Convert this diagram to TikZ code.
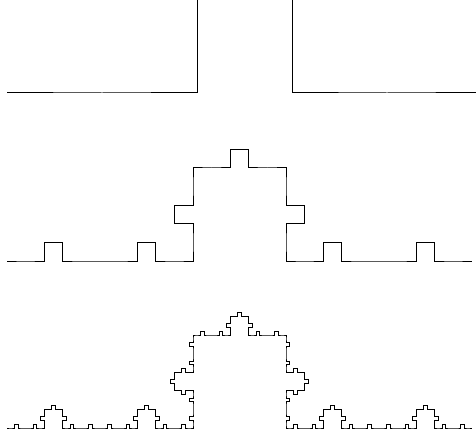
\documentclass[tikz,border=0pt]{standalone}
\usetikzlibrary{lindenmayersystems}

% each straight piece gets a square bump on its middle fifth
\pgfdeclarelindenmayersystem{square bumps}{
  \rule{F -> FF+F-F-F+FF}
}

\begin{document}
\begin{tikzpicture}[x=1pt,y=1pt,line width=1pt,
  bumps/.style={l-system={square bumps, axiom=F, angle=90, #1}}]
  \useasboundingbox (0,0) rectangle (476,437);
  \clip (0,0) rectangle (476,437);

  % first stage, runs off the top and the right
  \draw[shift={(7,344)},bumps={order=1, step=95pt}] (0,0) l-system;

  % second stage
  \draw[shift={(7,176)},bumps={order=2, step=18.6pt}] (0,0) l-system;

  % third stage
  \draw[shift={(7,9)},bumps={order=3, step=3.72pt}] (0,0) l-system;
\end{tikzpicture}
\end{document}
